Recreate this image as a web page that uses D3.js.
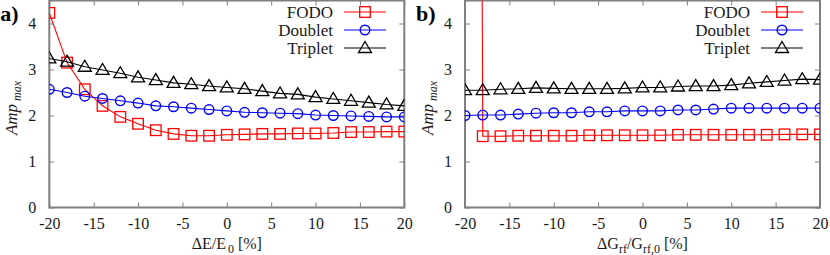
<!DOCTYPE html>
<html><head><meta charset="utf-8">
<script src="https://cdn.jsdelivr.net/npm/d3@7"></script>
<style>body{margin:0;background:#fff}svg{display:block}</style>
</head><body><svg id="c" width="830" height="255"></svg>
<script>
const xVals = [-20,-18,-16,-14,-12,-10,-8,-6,-4,-2,0,2,4,6,8,10,12,14,16,18,20];
const xTicks = [-20,-15,-10,-5,0,5,10,15,20];
const yTicks = [0,1,2,3,4];
const seriesNames = ["FODO","Doublet","Triplet"];
// panel a) : energy deviation
const aFODO    = [4.23,3.15,2.57,2.21,1.97,1.82,1.68,1.60,1.56,1.56,1.58,1.59,1.60,1.60,1.61,1.61,1.62,1.64,1.64,1.65,1.65];
const aDoublet = [2.57,2.50,2.42,2.37,2.32,2.27,2.21,2.19,2.16,2.13,2.10,2.07,2.06,2.05,2.04,2.01,2.00,1.99,1.98,1.97,1.97];
const aTriplet = [3.24,3.17,3.06,2.99,2.92,2.83,2.77,2.71,2.68,2.64,2.61,2.58,2.53,2.48,2.46,2.40,2.36,2.32,2.28,2.24,2.21];
// panel b) : gradient deviation (FODO at -20 is far off scale)
const bFODO    = [100,1.55,1.55,1.56,1.56,1.56,1.56,1.57,1.57,1.57,1.57,1.57,1.58,1.58,1.58,1.58,1.58,1.58,1.59,1.59,1.59];
const bDoublet = [2.00,2.01,2.01,2.03,2.05,2.06,2.06,2.08,2.08,2.10,2.10,2.10,2.12,2.12,2.14,2.16,2.16,2.16,2.16,2.16,2.16];
const bTriplet = [2.55,2.55,2.57,2.58,2.60,2.59,2.58,2.58,2.58,2.59,2.61,2.61,2.63,2.64,2.64,2.66,2.70,2.73,2.76,2.79,2.78];

const colors = ["#ff0000","#0000ff","#000000"];
const shapes = ["square","circle","triangle"];
const svg = d3.select("#c");
const FONT = "'Liberation Serif','Times New Roman',serif";
const fmt = d => String(d);

function marker(g, shape, color, x, y){
  if(shape==="square") g.append("rect").attr("x",x-5.3).attr("y",y-5.3).attr("width",10.6).attr("height",10.6)
      .attr("fill","none").attr("stroke",color).attr("stroke-width",1.3);
  else if(shape==="circle") g.append("circle").attr("cx",x).attr("cy",y).attr("r",4.8)
      .attr("fill","none").attr("stroke",color).attr("stroke-width",1.4);
  else g.append("path").attr("d",`M${x-6.5},${y+4.5}L${x+6.5},${y+4.5}L${x},${y-6.5}Z`)
      .attr("fill","none").attr("stroke",color).attr("stroke-width",1.3);
}

function panel(opts){
  const {x0,x1,y0,y1,data,id,label,legX,xlab} = opts;
  const x = d3.scaleLinear().domain([-20,20]).range([x0,x1]);
  const y = d3.scaleLinear().domain([0,4.5]).range([y0,y1]);
  const g = svg.append("g");
  g.append("clipPath").attr("id",id).append("rect").attr("x",x0).attr("y",y1).attr("width",x1-x0).attr("height",y0-y1);
  g.append("rect").attr("x",x0).attr("y",y1).attr("width",x1-x0).attr("height",y0-y1)
    .attr("fill","none").attr("stroke","#7f7f7f").attr("stroke-width",2);
  const ax = g.append("g").attr("transform",`translate(0,${y0})`)
    .call(d3.axisBottom(x).tickValues(xTicks).tickSizeInner(-5).tickSizeOuter(0).tickPadding(13).tickFormat(fmt));
  const axT = g.append("g").attr("transform",`translate(0,${y1})`)
    .call(d3.axisTop(x).tickValues(xTicks).tickSizeInner(-5).tickSizeOuter(0).tickFormat(""));
  const ay = g.append("g").attr("transform",`translate(${x0},0)`)
    .call(d3.axisLeft(y).tickValues(yTicks).tickSizeInner(-5).tickSizeOuter(0).tickPadding(13).tickFormat(fmt));
  const ayR = g.append("g").attr("transform",`translate(${x1},0)`)
    .call(d3.axisRight(y).tickValues(yTicks).tickSizeInner(-5).tickSizeOuter(0).tickFormat(""));
  [ax,axT,ay,ayR].forEach(a=>{
    a.attr("font-family",FONT).attr("font-size",16);
    a.select(".domain").remove();
    a.selectAll("line").attr("stroke","#7f7f7f").attr("stroke-width",1);
    a.selectAll("text").attr("font-family",FONT).attr("font-size",16).attr("fill","#1a1a1a");
  });
  ax.selectAll("text").attr("dy","0.55em");
  const pg = g.append("g").attr("clip-path",`url(#${id})`);
  const line = d3.line().x((d,i)=>x(xVals[i])).y(d=>y(d));
  data.forEach((arr,k)=>{
    pg.append("path").attr("d",line(arr)).attr("fill","none").attr("stroke",colors[k]).attr("stroke-width",1.1);
    arr.forEach((v,i)=>marker(pg,shapes[k],colors[k],x(xVals[i]),y(v)));
  });
  seriesNames.forEach((n,k)=>{
    const ly = 12 + k*18;
    g.append("text").attr("x",legX).attr("y",ly).attr("dy","0.35em").attr("text-anchor","end")
      .attr("font-family",FONT).attr("font-size",17).attr("fill","#1a1a1a").text(n);
    g.append("line").attr("x1",legX+11).attr("x2",legX+53).attr("y1",ly).attr("y2",ly)
      .attr("stroke",colors[k]).attr("stroke-width",1.1);
    marker(g,shapes[k],colors[k],legX+32,ly);
  });
  g.append("text").attr("x",x0-49).attr("y",21).attr("font-family",FONT).attr("font-size",22)
    .attr("font-weight","bold").attr("fill","#000").text(label);
  const yl = g.append("text").attr("transform",`translate(${x0-32},${(y0+y1)/2+4}) rotate(-90)`)
    .attr("text-anchor","middle").attr("font-family",FONT).attr("font-style","italic").attr("fill","#1a1a1a");
  yl.append("tspan").attr("font-size",17).text("Amp");
  yl.append("tspan").attr("font-size",12).attr("dx",3).attr("dy",4).text("max");
  const xl = g.append("text").attr("x",(x0+x1)/2).attr("y",249).attr("text-anchor","middle")
    .attr("font-family",FONT).attr("font-size",16).attr("fill","#1a1a1a");
  xlab(xl);
}

panel({x0:49.3,x1:404.3,y0:207.5,y1:0.5,data:[aFODO,aDoublet,aTriplet],id:"ca",label:"a)",legX:333,
  xlab: t=>{ t.append("tspan").text("ΔE/E"); t.append("tspan").attr("font-size",12).attr("dx",2).attr("dy",4).text("0");
             t.append("tspan").attr("dy",-4).text(" [%]"); }});
panel({x0:465,x1:820,y0:207.5,y1:0.5,data:[bFODO,bDoublet,bTriplet],id:"cb",label:"b)",legX:750,
  xlab: t=>{ t.append("tspan").text("ΔG"); t.append("tspan").attr("font-size",12).attr("dy",4).text("rf");
             t.append("tspan").attr("dy",-4).text("/G"); t.append("tspan").attr("font-size",12).attr("dy",4).text("rf,0");
             t.append("tspan").attr("dy",-4).text(" [%]"); }});
</script></body></html>
